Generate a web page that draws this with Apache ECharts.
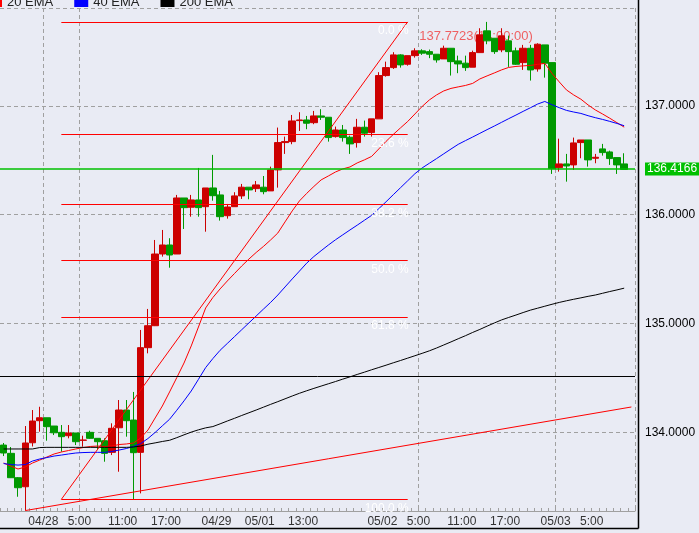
<!DOCTYPE html>
<html>
<head>
<meta charset="utf-8">
<script src="https://cdn.jsdelivr.net/npm/echarts@6/dist/echarts.min.js"></script>
<style>
  html, body { margin: 0; padding: 0; background: #e9ebf4; }
  #chart { width: 699px; height: 533px; }
</style>
</head>
<body>
<div id="chart"></div>
<script>
// hourly candles, red = up, green = down
var opens = [133.883, 133.807, 133.583, 133.500, 133.904, 134.107, 134.134, 134.058, 134.000, 133.969,
  133.994, 133.927, 134.000, 133.945, 133.923, 133.816, 134.042, 134.205, 134.113, 133.816,
  134.778, 134.980, 135.639, 135.722, 135.639, 136.154, 136.069, 136.136, 136.074, 136.246,
  136.182, 135.991, 136.074, 136.173, 136.253, 136.240, 136.253, 136.219, 136.412, 136.663,
  136.672, 136.865, 136.871, 136.846, 136.908, 136.896, 136.718, 136.779, 136.712, 136.663,
  136.804, 136.755, 136.881, 137.279, 137.352, 137.469, 137.383, 137.462, 137.506, 137.499,
  137.475, 137.432, 137.530, 137.414, 137.393, 137.356, 137.490, 137.690, 137.622, 137.515,
  137.598, 137.506, 137.398, 137.530, 137.340, 137.561, 137.398, 136.433, 136.467, 136.458,
  136.663, 136.687, 136.519, 136.605, 136.577, 136.525, 136.467];
var closes = [133.810, 133.583, 133.491, 133.902, 134.104, 134.134, 134.052, 133.996, 133.960, 133.994,
  133.914, 133.929, 133.945, 133.914, 133.807, 134.037, 134.205, 134.107, 133.813, 134.778,
  134.980, 135.639, 135.722, 135.630, 136.154, 136.065, 136.136, 136.065, 136.246, 136.175,
  135.982, 136.071, 136.173, 136.253, 136.228, 136.274, 136.212, 136.412, 136.663, 136.672,
  136.862, 136.871, 136.841, 136.908, 136.896, 136.709, 136.779, 136.709, 136.651, 136.804,
  136.749, 136.881, 137.279, 137.352, 137.469, 137.377, 137.462, 137.506, 137.485, 137.475,
  137.423, 137.530, 137.407, 137.386, 137.352, 137.490, 137.653, 137.598, 137.499, 137.644,
  137.499, 137.383, 137.530, 137.331, 137.567, 137.393, 136.424, 136.467, 136.448, 136.660,
  136.687, 136.504, 136.528, 136.571, 136.516, 136.458, 136.4166];
var lows = [133.782, 133.580, 133.408, 133.281, 133.870, 134.006, 133.923, 133.975, 133.822, 133.945,
  133.883, 133.868, 133.939, 133.837, 133.730, 133.791, 133.638, 133.960, 133.384, 133.439,
  134.726, 134.977, 135.615, 135.513, 135.639, 135.869, 135.982, 135.982, 135.844, 136.129,
  135.946, 135.964, 136.074, 136.145, 136.142, 136.209, 136.188, 136.219, 136.249, 136.559,
  136.648, 136.770, 136.786, 136.832, 136.871, 136.672, 136.709, 136.672, 136.559, 136.617,
  136.718, 136.718, 136.881, 137.269, 137.340, 137.352, 137.370, 137.444, 137.469, 137.439,
  137.398, 137.432, 137.279, 137.301, 137.322, 137.356, 137.490, 137.567, 137.478, 137.494,
  137.359, 137.377, 137.331, 137.233, 137.315, 137.260, 136.375, 136.396, 136.304, 136.412,
  136.519, 136.442, 136.473, 136.543, 136.458, 136.375, 136.4166];
var highs = [133.902, 133.865, 133.589, 134.058, 134.205, 134.235, 134.134, 134.058, 134.067, 134.067,
  133.994, 133.969, 134.015, 133.945, 133.945, 134.083, 134.297, 134.297, 134.371, 134.941,
  135.134, 135.768, 135.860, 135.784, 136.182, 136.154, 136.182, 136.430, 136.246, 136.550,
  136.219, 136.099, 136.207, 136.283, 136.253, 136.310, 136.356, 136.442, 136.801, 136.718,
  136.917, 136.942, 136.908, 136.954, 136.970, 136.896, 136.810, 136.825, 136.727, 136.881,
  136.865, 136.881, 137.310, 137.407, 137.494, 137.475, 137.462, 137.530, 137.521, 137.518,
  137.475, 137.554, 137.530, 137.462, 137.462, 137.508, 137.714, 137.7723, 137.622, 137.714,
  137.646, 137.536, 137.561, 137.561, 137.576, 137.561, 137.398, 136.699, 136.559, 136.709,
  136.687, 136.687, 136.559, 136.651, 136.589, 136.525, 136.565];

var ema20 = [133.718, 133.690, 133.663, 133.681, 133.718, 133.745, 133.773, 133.801, 133.819, 133.833,
  133.847, 133.860, 133.870, 133.874, 133.870, 133.874, 133.888, 133.893, 133.902, 133.948,
  134.021, 134.132, 134.242, 134.371, 134.503, 134.637, 134.794, 134.968, 135.143, 135.239,
  135.318, 135.391, 135.460, 135.529, 135.593, 135.653, 135.708, 135.768, 135.832, 135.934,
  136.035, 136.127, 136.196, 136.260, 136.320, 136.356, 136.393, 136.421, 136.439, 136.476,
  136.504, 136.536, 136.605, 136.674, 136.738, 136.798, 136.857, 136.926, 136.995, 137.055,
  137.101, 137.138, 137.161, 137.175, 137.188, 137.207, 137.248, 137.276, 137.303, 137.331,
  137.354, 137.363, 137.368, 137.372, 137.382, 137.391, 137.299, 137.221, 137.147, 137.101,
  137.062, 137.009, 136.963, 136.926, 136.887, 136.846, 136.805];
var ema40 = [133.713, 133.704, 133.699, 133.704, 133.736, 133.755, 133.768, 133.782, 133.791, 133.801,
  133.810, 133.814, 133.816, 133.816, 133.816, 133.824, 133.837, 133.851, 133.870, 133.897,
  133.943, 133.999, 134.060, 134.120, 134.203, 134.289, 134.380, 134.487, 134.595, 134.678,
  134.754, 134.817, 134.880, 134.943, 135.006, 135.069, 135.132, 135.194, 135.262, 135.336,
  135.410, 135.482, 135.555, 135.616, 135.669, 135.721, 135.770, 135.815, 135.860, 135.904,
  135.949, 135.994, 136.056, 136.119, 136.184, 136.248, 136.312, 136.377, 136.430, 136.473,
  136.516, 136.560, 136.604, 136.647, 136.681, 136.714, 136.748, 136.782, 136.815, 136.849,
  136.883, 136.916, 136.950, 136.983, 137.017, 137.041, 137.011, 136.984, 136.959, 136.944,
  136.931, 136.910, 136.892, 136.876, 136.858, 136.839, 136.818];
var ema200 = [133.847, 133.847, 133.847, 133.847, 133.847, 133.860, 133.862, 133.862, 133.862, 133.862,
  133.862, 133.862, 133.862, 133.862, 133.862, 133.862, 133.862, 133.862, 133.865, 133.874,
  133.891, 133.903, 133.916, 133.927, 133.951, 133.977, 134.002, 134.023, 134.041, 134.053,
  134.078, 134.104, 134.129, 134.155, 134.180, 134.205, 134.231, 134.257, 134.282, 134.308,
  134.334, 134.359, 134.382, 134.404, 134.425, 134.446, 134.467, 134.489, 134.510, 134.532,
  134.553, 134.575, 134.596, 134.617, 134.639, 134.660, 134.682, 134.704, 134.726, 134.749,
  134.775, 134.803, 134.831, 134.860, 134.888, 134.918, 134.946, 134.976, 135.005, 135.033,
  135.056, 135.078, 135.101, 135.123, 135.141, 135.159, 135.177, 135.194, 135.209, 135.223,
  135.236, 135.250, 135.262, 135.278, 135.294, 135.309, 135.325];

// time labels sit on the boundary before candle tickIndex[k]
var tickIndex = [6, 11, 17, 23, 30, 36, 42, 53, 58, 64, 70, 77, 82];
var tickText = ['04/28', '5:00', '11:00', '17:00', '04/29', '05/01', '13:00', '05/02', '5:00', '11:00', '17:00', '05/03', '5:00'];
var vGridIndex = [6, 11, 58, 77];

var fibLevels = [0, 23.6, 38.2, 50, 61.8, 100];
var fibHigh = 137.7723, fibLow = 133.384;
var fibFrom = 8, fibTo = 56;
var trendLine = [[3, 133.281], [87, 134.233]];
var blackLevel = 134.518;
var lastPrice = 136.4166;
var highIndex = 67;
var highText = '137.7723(14:00:00)';

var categories = [];
for (var i = 0; i <= opens.length; i++) categories.push(String(i));

var candles = opens.map(function (o, i) { return [o, closes[i], lows[i], highs[i]]; });
candles.push('-');

var fibLines = fibLevels.map(function (lv) {
  var v = fibHigh - (fibHigh - fibLow) * lv / 100;
  return [
    { coord: [fibFrom, v], label: { formatter: lv.toFixed(1) + ' %' } },
    { coord: [fibTo, v] }
  ];
});

var markLines = fibLines.concat([
  [{ coord: [fibFrom, fibLow] }, { coord: [fibTo, fibHigh] }],
  [{ coord: trendLine[0] }, { coord: trendLine[1] }],
  { yAxis: blackLevel, lineStyle: { color: '#000' }, label: { show: false } },
  {
    yAxis: lastPrice, lineStyle: { color: '#00c000', width: 1.5 },
    label: {
      show: true, position: 'end', distance: 6, formatter: lastPrice.toFixed(4),
      color: '#fff', backgroundColor: '#00c000', padding: [1, 2, 0, 2],
      fontSize: 12, fontFamily: 'Liberation Sans, Arial'
    }
  }
]);

var font = 'Liberation Sans, Arial, sans-serif';
var chart = echarts.init(document.getElementById('chart'));
chart.setOption({
  animation: false,
  backgroundColor: '#e9ebf4',
  textStyle: { fontFamily: font },
  legend: {
    data: ['20 EMA', '40 EMA', '200 EMA'],
    left: -17, top: -9,
    icon: 'rect', itemWidth: 14, itemHeight: 9, itemGap: 21,
    textStyle: { fontSize: 13, color: '#222', fontFamily: font }
  },
  grid: { left: -5.42, right: 64, top: 8, bottom: 22 },
  xAxis: [
    {
      type: 'category',
      data: categories,
      boundaryGap: true,
      axisLine: { lineStyle: { color: '#a0a0a0' } },
      axisTick: { show: true, inside: true, length: 3, interval: 0, lineStyle: { color: '#a0a0a0' } },
      axisLabel: { show: false },
      splitLine: {
        show: true,
        interval: function (idx) { return vGridIndex.indexOf(idx) >= 0; },
        lineStyle: { color: '#a0a0a0', type: [4, 3] }
      }
    },
    {
      // label-only axis so each time label centres on a candle boundary
      type: 'value',
      position: 'bottom',
      min: -0.5, max: categories.length - 0.5,
      axisLine: { show: false },
      axisTick: { show: false },
      splitLine: { show: false },
      axisLabel: {
        margin: 5, fontSize: 12, color: '#333',
        customValues: tickIndex.map(function (k) { return k - 0.5; }),
        formatter: function (v) {
          var k = tickIndex.indexOf(Math.round(v + 0.5));
          return k >= 0 ? tickText[k] : '';
        }
      }
    }
  ],
  yAxis: {
    type: 'value',
    position: 'right',
    min: 133.277, max: 137.9,
    splitNumber: 5,
    axisLine: { show: false },
    axisTick: { show: false },
    axisLabel: {
      margin: 10, fontSize: 12, color: '#000',
      showMinLabel: false, showMaxLabel: false,
      formatter: function (v) { return v.toFixed(4); }
    },
    splitLine: { show: true, lineStyle: { color: '#a0a0a0', type: [4, 3] } }
  },
  series: [
    {
      name: 'high',
      type: 'scatter',
      z: 1,
      symbolSize: 0,
      silent: true,
      data: [[highIndex, fibHigh]],
      label: {
        show: true, position: 'inside', offset: [-11, 15],
        formatter: highText, color: '#f03c3c', fontSize: 13
      }
    },
    {
      name: 'price',
      type: 'candlestick',
      z: 3,
      barWidth: 7,
      data: candles,
      itemStyle: {
        color: '#cc0000', color0: '#009900',
        borderColor: '#cc0000', borderColor0: '#009900', borderWidth: 1
      }
    },
    {
      name: '20 EMA', type: 'line', z: 4, data: ema20, symbol: 'none',
      lineStyle: { color: '#ff0000', width: 1 }, itemStyle: { color: '#ff0000' }
    },
    {
      name: '40 EMA', type: 'line', z: 4, data: ema40, symbol: 'none',
      lineStyle: { color: '#0000ff', width: 1 }, itemStyle: { color: '#0000ff' }
    },
    {
      name: '200 EMA', type: 'line', z: 4, data: ema200, symbol: 'none',
      lineStyle: { color: '#000000', width: 1 }, itemStyle: { color: '#000000' }
    },
    {
      name: 'drawings', type: 'line', z: 5, data: [],
      markLine: {
        silent: true, symbol: ['none', 'none'], animation: false,
        lineStyle: { color: '#ff0000', width: 1, type: 'solid' },
        label: {
          show: true, position: 'insideEndBottom', distance: 3, offset: [4, 0],
          color: '#ffffff', fontSize: 12
        },
        data: markLines
      }
    }
  ],
  graphic: [
    { type: 'line', silent: true, shape: { x1: 638.5, y1: 0, x2: 638.5, y2: 528.5 }, style: { stroke: '#000', lineWidth: 1.5 } },
    { type: 'line', silent: true, shape: { x1: 0, y1: 528.5, x2: 638.5, y2: 528.5 }, style: { stroke: '#000', lineWidth: 1.5 } }
  ]
});
</script>
</body>
</html>
